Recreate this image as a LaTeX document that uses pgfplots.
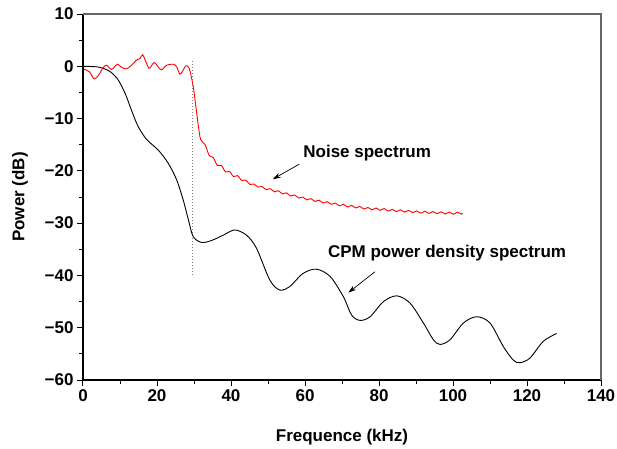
\documentclass[border=0pt]{standalone}
\usepackage{fontspec}
\setmainfont{Liberation Sans}
\usepackage{pgfplots}
\pgfplotsset{compat=1.18}
\usetikzlibrary{arrows.meta}
\newcommand\ff{\fontsize{17pt}{20pt}\selectfont\bfseries}
\begin{document}
\begin{tikzpicture}
\begin{axis}[
    at={(0,0)}, anchor=south west,
    scale only axis, width=518pt, height=366pt,
    xmin=0, xmax=140, ymin=-60, ymax=10,
    axis x line*=bottom, axis y line*=left,
    axis line style={line width=1.2pt},
    tick align=outside,
    major tick length=6pt, minor tick length=4pt,
    tick style={black, line width=1pt},
    xtick={0,20,...,140}, minor x tick num=1,
    ytick={-60,-50,...,10}, minor y tick num=1,
    xticklabels={0,20,40,60,80,100,120,140},
    yticklabels={−60,−50,−40,−30,−20,−10,0,10},
    ticklabel style={font=\ff},
    xlabel={Frequence (kHz)}, ylabel={Power (dB)},
    label style={font=\ff},
    xlabel style={at={(axis description cs:0.5,-0.1557)}, anchor=center},
    ylabel style={at={(axis description cs:-0.1216,0.5)}, anchor=center},
    clip=false,
]
% frame on top and right, in grey
\draw[gray!80!black, line width=1.2pt] (rel axis cs:0,1) -- (rel axis cs:1,1) -- (rel axis cs:1,0);

% cut-off marker
\addplot[gray, dotted, line width=1pt] coordinates {(29.5,1) (29.5,-40)};

% CPM power density spectrum
\addplot[black, line width=0.9pt, smooth] coordinates {
(0,0) (2.5,-0.05) (4.6,-0.2) (7.3,-1.0) (9.5,-2.6) (11.4,-5.2) (13.1,-8.4)
(14.9,-11.5) (17.2,-14.0) (20.3,-16.0) (23.0,-18.5) (25.3,-21.7) (27.1,-25.6)
(28.5,-29.4) (29.8,-32.6) (32.1,-33.7) (34.8,-33.3) (37.9,-32.3) (41.0,-31.3)
(44.2,-32.3) (46.9,-34.8) (50.5,-40.9) (53.2,-42.8) (55.9,-42.1) (59.5,-39.6)
(63.1,-38.8) (66.8,-40.2) (70.4,-44.1) (72.6,-47.6) (74.9,-48.6) (77.6,-47.9)
(81.2,-45.0) (84.8,-43.9) (88.4,-45.3) (92.0,-49.1) (94.7,-52.3) (96.5,-53.2)
(99.2,-52.3) (102.8,-49.1) (106.4,-47.9) (110.0,-49.1) (113.6,-53.6) (116.3,-56.2)
(118.1,-56.7) (120.8,-55.8) (124.4,-52.6) (128.0,-51.1)
};

% noise spectrum
\addplot[red, line width=0.9pt, smooth] coordinates {
(0.3,-0.6) (1.7,-1.0) (3.0,-2.4) (4.2,-1.7) (5.5,-0.2) (6.4,0.2) (7.7,-0.6)
(9.3,0.4) (10.4,-0.2) (11.8,-0.5) (13.1,0.2) (14.5,1.2) (15.4,1.5) (16.1,2.2)
(17.0,0.9) (17.9,-0.4) (19.2,0.7) (20.3,-0.1) (21.2,-0.7) (22.6,0.2) (24.4,0.4)
(25.3,-0.1) (26.2,-1.5) (27.1,-0.7) (27.8,0.1) (28.7,-0.4) (29.8,-3.9) (30.5,-7.7)
(31.2,-11.5) (31.8,-14.0) (33.0,-15.0)
(34.1,-17.05) (35.2,-17.45) (36.3,-18.95) (37.4,-18.95) (38.5,-20.2) (39.6,-20.1)
(40.7,-21.1) (41.8,-20.9) (42.9,-21.85) (44.0,-21.75) (45.1,-22.6) (46.2,-22.5)
(47.3,-23.1) (48.4,-23.0) (49.5,-23.6) (50.6,-23.4) (51.7,-24.0) (52.8,-23.8)
(53.9,-24.4) (55.0,-24.2) (56.1,-24.8) (57.2,-24.6) (58.3,-25.2) (59.4,-25.0)
(60.5,-25.55) (61.6,-25.3) (62.7,-25.85) (63.8,-25.6) (64.9,-26.15) (66.0,-25.9)
(67.1,-26.4) (68.2,-26.15) (69.3,-26.7) (70.4,-26.4) (71.5,-26.9) (72.6,-26.6)
(73.7,-27.1) (74.8,-26.8) (75.9,-27.3) (77.0,-27.0) (78.1,-27.45) (79.2,-27.1)
(80.3,-27.55) (81.4,-27.2) (82.5,-27.7) (83.6,-27.35) (84.7,-27.8) (85.8,-27.45)
(86.9,-27.9) (88.0,-27.55) (89.1,-28.0) (90.2,-27.65) (91.3,-28.1) (92.4,-27.72)
(93.5,-28.15) (94.6,-27.78) (95.7,-28.2) (96.8,-27.83) (97.9,-28.26) (99.0,-27.88)
(100.1,-28.3) (101.2,-27.9) (102.3,-28.3) (102.6,-28.1)
};

% annotations
\node[font=\ff] at (axis cs:76.8,-16.6) {Noise spectrum};
\draw[line width=0.7pt, -{Stealth[length=8pt,width=5pt]}] (axis cs:58.5,-18.7) -- (axis cs:51.3,-21.6);
\node[font=\ff] at (axis cs:98.4,-35.7) {CPM power density spectrum};
\draw[line width=0.7pt, -{Stealth[length=8pt,width=5pt]}] (axis cs:78.9,-39.3) -- (axis cs:71.7,-43.3);
\end{axis}
\pgfresetboundingbox
\path (-83pt,-68pt) rectangle (534pt,380pt);
\end{tikzpicture}
\end{document}
